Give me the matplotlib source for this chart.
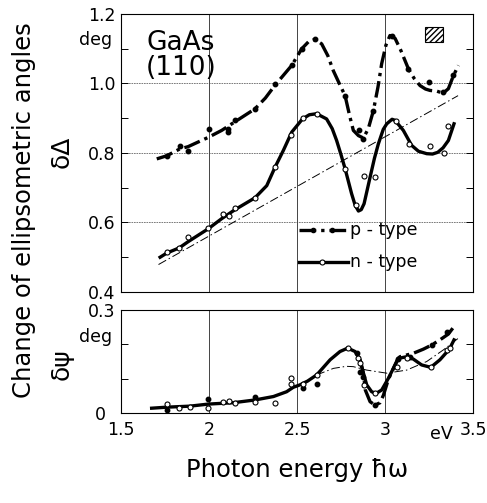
import numpy as np
import matplotlib.pyplot as plt
from matplotlib.patches import Rectangle
from matplotlib.transforms import blended_transform_factory, ScaledTranslation

# delta Delta, p-type curve
p_top_x = [1.703, 1.76, 1.835, 1.88, 1.996, 2.072, 2.148, 2.261, 2.32, 2.375, 2.42, 2.47,
           2.527, 2.565, 2.602, 2.64, 2.675, 2.706, 2.74, 2.773, 2.80, 2.82, 2.849, 2.877,
           2.905, 2.934, 2.96, 2.981, 3.005, 3.028, 3.057, 3.09, 3.133, 3.165, 3.199, 3.23,
           3.256, 3.294, 3.33, 3.36, 3.389, 3.417]
p_top_y = [0.783, 0.792, 0.812, 0.818, 0.845, 0.865, 0.89, 0.927, 0.958, 0.995, 1.022, 1.052,
           1.10, 1.12, 1.127, 1.114, 1.08, 1.037, 1.0, 0.965, 0.905, 0.865, 0.85, 0.843,
           0.87, 0.922, 0.99, 1.057, 1.11, 1.138, 1.13, 1.095, 1.042, 1.015, 0.994, 0.984,
           0.98, 0.978, 0.972, 0.985, 1.023, 1.052]
p_top_pts_x = [1.76, 1.835, 1.882, 2.0, 2.11, 2.11, 2.148, 2.261, 2.375, 2.47, 2.527, 2.602,
               2.773, 2.853, 2.877, 2.934, 3.04, 3.133, 3.252, 3.332, 3.389]
p_top_pts_y = [0.79, 0.819, 0.807, 0.870, 0.87, 0.86, 0.894, 0.927, 0.999, 1.052, 1.10, 1.127,
               0.965, 0.867, 0.841, 0.922, 1.138, 1.042, 1.004, 0.975, 1.023]

# delta Delta, n-type curve
n_top_x = [1.722, 1.76, 1.831, 1.882, 1.996, 2.072, 2.148, 2.261, 2.328, 2.375, 2.422, 2.47,
           2.531, 2.57, 2.611, 2.668, 2.70, 2.725, 2.75, 2.773, 2.81, 2.83, 2.849, 2.865,
           2.881, 2.915, 2.94, 2.962, 2.99, 3.01, 3.04, 3.057, 3.104, 3.151, 3.19, 3.237,
           3.27, 3.30, 3.33, 3.36, 3.392]
n_top_y = [0.50, 0.512, 0.527, 0.545, 0.582, 0.611, 0.637, 0.671, 0.706, 0.759, 0.807, 0.86,
           0.898, 0.91, 0.913, 0.898, 0.87, 0.836, 0.795, 0.755, 0.683, 0.65, 0.633, 0.637,
           0.654, 0.73, 0.785, 0.826, 0.868, 0.884, 0.897, 0.894, 0.865, 0.822, 0.805, 0.798,
           0.797, 0.802, 0.815, 0.836, 0.884]
n_top_pts_x = [1.76, 1.83, 1.882, 1.996, 2.078, 2.115, 2.148, 2.261, 2.375, 2.464, 2.536, 2.611,
               2.773, 2.833, 2.881, 2.943, 3.06, 3.136, 3.256, 3.337, 3.36]
n_top_pts_y = [0.514, 0.527, 0.558, 0.585, 0.623, 0.62, 0.642, 0.671, 0.76, 0.853, 0.901, 0.913,
               0.755, 0.649, 0.735, 0.732, 0.893, 0.826, 0.82, 0.80, 0.879]

# thin reference line (top)
ref_top_x = [1.713, 3.415]
ref_top_y = [0.479, 0.965]

# delta Psi, n-type curve
n_bot_x = [1.674, 1.76, 1.892, 1.996, 2.138, 2.261, 2.366, 2.441, 2.479, 2.517, 2.56, 2.612,
           2.65, 2.688, 2.744, 2.788, 2.83, 2.858, 2.877, 2.896, 2.924, 2.949, 2.981, 3.019,
           3.057, 3.075, 3.123, 3.161, 3.208, 3.26, 3.312, 3.366, 3.392]
n_bot_y = [0.014, 0.017, 0.020, 0.026, 0.030, 0.038, 0.048, 0.062, 0.075, 0.082, 0.093, 0.111,
           0.133, 0.155, 0.179, 0.189, 0.179, 0.155, 0.116, 0.082, 0.062, 0.057, 0.067, 0.101,
           0.14, 0.159, 0.164, 0.157, 0.14, 0.133, 0.155, 0.186, 0.213]

# delta Psi, p-type curve (where it departs from n-type)
p_bot_x = [2.858, 2.877, 2.888, 2.915, 2.943, 2.972, 2.991, 3.019, 3.057, 3.075, 3.085, 3.161,
           3.218, 3.265, 3.312, 3.36, 3.385]
p_bot_y = [0.155, 0.116, 0.067, 0.033, 0.023, 0.030, 0.052, 0.098, 0.14, 0.159, 0.164, 0.174,
           0.186, 0.198, 0.213, 0.230, 0.247]

# thin reference curve (bottom)
ref_bot_x = [2.45, 2.53, 2.612, 2.707, 2.78, 2.82, 2.896, 3.01, 3.123, 3.237, 3.332, 3.417]
ref_bot_y = [0.066, 0.085, 0.111, 0.130, 0.136, 0.135, 0.125, 0.116, 0.125, 0.15, 0.184, 0.218]

n_bot_pts_x = [1.76, 1.831, 1.892, 1.996, 2.078, 2.115, 2.148, 2.261, 2.375, 2.464, 2.464,
               2.536, 2.612, 2.788, 2.849, 2.858, 2.882, 2.943, 3.066, 3.127, 3.26, 3.35, 3.369]
n_bot_pts_y = [0.026, 0.016, 0.018, 0.014, 0.033, 0.035, 0.030, 0.033, 0.028, 0.101, 0.085,
               0.085, 0.111, 0.19, 0.159, 0.145, 0.082, 0.057, 0.135, 0.161, 0.133, 0.184, 0.189]
p_bot_pts_x = [1.76, 1.996, 2.261, 2.536, 2.615, 2.843, 2.858, 2.873, 2.943, 3.075, 3.142,
               3.265, 3.35]
p_bot_pts_y = [0.009, 0.040, 0.048, 0.072, 0.085, 0.174, 0.12, 0.106, 0.023, 0.157, 0.164,
               0.198, 0.237]

x_ticks = [1.5, 2, 2.5, 3, 3.5]
x_tick_labels = ['1.5', '2', '2.5', '3', '3.5']

fig = plt.figure(figsize=(4.87, 5.03), dpi=100)
ax1 = fig.add_axes([0.2485, 0.4195, 0.7228, 0.5527])
ax2 = fig.add_axes([0.2485, 0.1789, 0.7228, 0.2048])

dashdot = (0, (5, 1.5, 1, 1.5))
thin_dd = (0, (9, 3, 1.5, 3))

# --- top panel
ax1.plot(p_top_x, p_top_y, color='black', lw=2.4, ls=dashdot, zorder=3)
ax1.plot(n_top_x, n_top_y, color='black', lw=2.4, zorder=3)
ax1.plot(ref_top_x, ref_top_y, color='black', lw=0.7, ls=thin_dd, zorder=2)
ax1.plot(p_top_pts_x, p_top_pts_y, 'o', color='black', ms=3.2, zorder=4)
ax1.plot(n_top_pts_x, n_top_pts_y, 'o', mfc='white', mec='black', mew=0.8, ms=3.6, zorder=4)

ax1.set_xlim(1.5, 3.5)
ax1.set_ylim(0.4, 1.2)
ax1.set_xticks(x_ticks)
ax1.set_xticklabels([])
ax1.set_yticks([0.4, 0.6, 0.8, 1.0, 1.2])
ax1.set_yticklabels(['0.4', '0.6', '0.8', '1.0', '1.2'])
ax1.set_yticks([0.5, 0.7, 0.9, 1.1], minor=True)
ax1.tick_params(axis='both', which='both', direction='in', length=5, width=0.7,
                left=True, right=True, top=False, bottom=False, labelsize=12.5, pad=4)
for v in [0.6, 0.8, 1.0]:
    ax1.axhline(v, color='#666666', lw=0.6, ls=(0, (2, 1)), zorder=1)
for v in [2, 2.5, 3]:
    ax1.axvline(v, color='#444444', lw=0.7, zorder=1)

ax1.text(1.84, 1.081, 'GaAs\n(110)', ha='center', va='center', fontsize=19,
         linespacing=0.95)
ax1.add_patch(Rectangle((3.227, 1.119), 0.1, 0.043, facecolor='white',
                        edgecolor='black', lw=0.8, hatch='//////'))
trans1 = blended_transform_factory(ax1.transAxes, ax1.transData)
ax1.text(-0.025, 1.124, 'deg', transform=trans1, ha='right', va='center', fontsize=12.5)

# manual legend
ax1.plot([2.51, 2.79], [0.577, 0.577], color='black', lw=2.4, ls=dashdot, zorder=3)
ax1.plot([2.59, 2.70], [0.577, 0.577], 'o', color='black', ms=3, zorder=4)
ax1.text(2.80, 0.577, 'p - type', ha='left', va='center', fontsize=12.5)
ax1.plot([2.51, 2.79], [0.485, 0.485], color='black', lw=2.4, zorder=3)
ax1.plot([2.64], [0.485], 'o', mfc='white', mec='black', mew=0.8, ms=3.6, zorder=4)
ax1.text(2.80, 0.485, 'n - type', ha='left', va='center', fontsize=12.5)

# --- bottom panel
ax2.plot(n_bot_x, n_bot_y, color='black', lw=2.4, zorder=3)
ax2.plot(p_bot_x, p_bot_y, color='black', lw=2.4, ls=dashdot, zorder=3)
ax2.plot(ref_bot_x, ref_bot_y, color='black', lw=0.7, ls=thin_dd, zorder=2)
ax2.plot(p_bot_pts_x, p_bot_pts_y, 'o', color='black', ms=3.2, zorder=4)
ax2.plot(n_bot_pts_x, n_bot_pts_y, 'o', mfc='white', mec='black', mew=0.8, ms=3.6, zorder=4)

ax2.set_xlim(1.5, 3.5)
ax2.set_ylim(0, 0.3)
ax2.set_xticks(x_ticks)
ax2.set_xticklabels(x_tick_labels)
ax2.set_yticks([0, 0.3])
ax2.set_yticklabels(['0', '0.3'])
ax2.set_yticks([0.1, 0.2], minor=True)
ax2.tick_params(axis='y', which='both', direction='in', length=5, width=0.7,
                left=True, right=True, labelsize=12.5, pad=4)
ax2.tick_params(axis='x', which='both', length=0, labelsize=12.5, pad=6)
# the "0" label sits further left, clear of "1.5"
zero_lbl = ax2.get_yticklabels()[0]
zero_lbl.set_transform(zero_lbl.get_transform() +
                       ScaledTranslation(-0.1, 0.0, fig.dpi_scale_trans))
for v in [2, 2.5, 3]:
    ax2.axvline(v, color='#444444', lw=0.7, zorder=1)
trans2 = blended_transform_factory(ax2.transAxes, ax2.transData)
ax2.text(-0.025, 0.222, 'deg', transform=trans2, ha='right', va='center', fontsize=12.5)
ax2.text(3.32, -0.035, 'eV', ha='center', va='top', fontsize=12.5)

for ax in (ax1, ax2):
    for s in ax.spines.values():
        s.set_linewidth(0.8)

fig.text(0.049, 1 - 210 / 503, 'Change of ellipsometric angles', rotation=90,
         ha='center', va='center', fontsize=17.5)
fig.text(62 / 487, 1 - 152 / 503, 'δΔ', rotation=90, ha='center', va='center', fontsize=18)
fig.text(62 / 487, 1 - 364 / 503, 'δψ', rotation=90, ha='center', va='center', fontsize=18)
fig.text(297 / 487, 1 - 470 / 503, 'Photon energy ħω', ha='center', va='center', fontsize=17.5)

fig.savefig('out.png', dpi=100)
